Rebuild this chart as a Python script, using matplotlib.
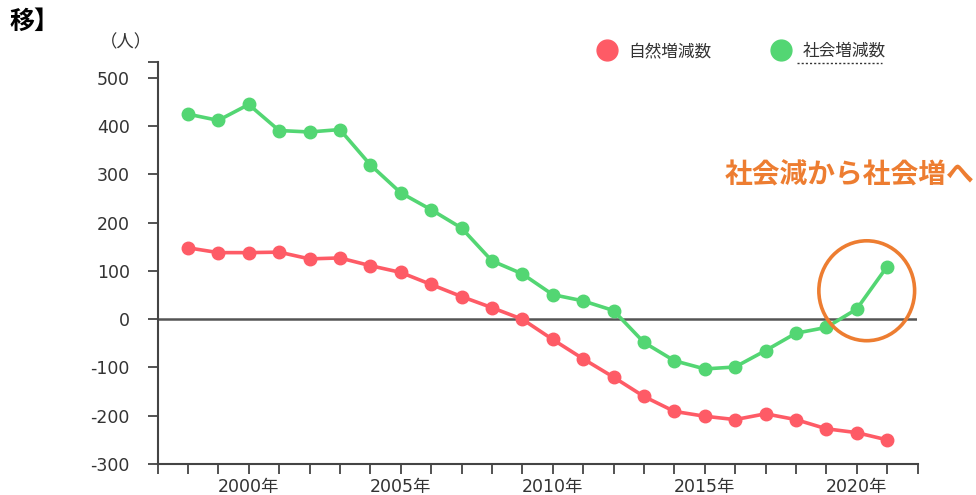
import matplotlib
matplotlib.use("Agg")
import matplotlib.pyplot as plt
from matplotlib.lines import Line2D
from matplotlib.patches import Ellipse

plt.rcParams['font.family'] = ['DejaVu Sans', 'Noto Sans CJK JP']
plt.rcParams['axes.unicode_minus'] = False

# データ
years = list(range(1998, 2022))
natural = [148, 138, 138, 139, 125, 127, 111, 97, 72, 47, 24, 0,
           -42, -82, -120, -160, -191, -201, -208, -196, -208, -227, -235, -250]
social = [425, 412, 445, 391, 388, 393, 320, 262, 227, 189, 121, 94,
          51, 38, 18, -48, -86, -103, -99, -65, -29, -17, 21, 109]
labels = ['自然増減数', '社会増減数']
year_ticks = [2000, 2005, 2010, 2015, 2020]
y_ticks = [-300, -200, -100, 0, 100, 200, 300, 400, 500]

red = '#fe5b66'
green = '#53d673'
orange = '#ed7d31'
axis_col = '#444444'

fig = plt.figure(figsize=(9.76, 4.95), dpi=100)
ax = fig.add_axes([157.5 / 976, 1 - 464 / 495, 760 / 976, 402 / 495])

ax.axhline(0, color='#555555', lw=1.8, zorder=1)
ax.plot(years, natural, color=red, lw=2.6, marker='o', markersize=9, zorder=3)
ax.plot(years, social, color=green, lw=2.6, marker='o', markersize=9, zorder=3)

# 軸
ax.set_xlim(1997, 2022)
ax.set_ylim(-300, 533)
ax.set_xticks(year_ticks)
ax.set_xticklabels([f'{y}年' for y in year_ticks])
ax.set_xticks(range(1997, 2023), minor=True)
ax.set_yticks(y_ticks)
ax.set_yticks([533], minor=True)
for s in ['top', 'right']:
    ax.spines[s].set_visible(False)
for s in ['left', 'bottom']:
    ax.spines[s].set_color(axis_col)
    ax.spines[s].set_linewidth(1.5)
ax.tick_params(axis='both', which='both', direction='out', length=7, width=1.3,
               color=axis_col, labelcolor='#333333', labelsize=12.5)
ax.tick_params(axis='y', pad=13)
ax.tick_params(axis='x', pad=3)

# 凡例
handles = [Line2D([], [], color=red, marker='o', linestyle='none', markersize=15),
           Line2D([], [], color=green, marker='o', linestyle='none', markersize=15)]
fig.legend(handles, labels, loc='center left', bbox_to_anchor=(590 / 976, 1 - 51 / 495),
           ncol=2, frameon=False, fontsize=12, handletextpad=0.3, columnspacing=3.2,
           labelcolor='#333333', borderaxespad=0, borderpad=0)
fig.add_artist(Line2D([797 / 976, 882 / 976], [1 - 63 / 495, 1 - 63 / 495],
                      color='#333333', lw=1, linestyle=(0, (1.5, 1.5))))

# 注記
ax.add_patch(Ellipse((2020.33, 59), 3.15, 207, fill=False, edgecolor=orange,
                     lw=2.6, clip_on=False, zorder=4))
fig.text(725 / 976, 1 - 175 / 495, '社会減から社会増へ', color=orange, fontsize=20,
         fontweight='bold', va='center', ha='left', family=['Noto Sans CJK JP'])

fig.text(10 / 976, 1 - 22 / 495, '移】', fontsize=18, fontweight='bold', color='black',
         va='center', ha='left', family=['Noto Sans CJK JP'])
fig.text(126 / 976, 1 - 42 / 495, '（人）', fontsize=12.5, color='#333333',
         va='center', ha='center', family=['Noto Sans CJK JP'])

fig.savefig('out.png', dpi=100)
